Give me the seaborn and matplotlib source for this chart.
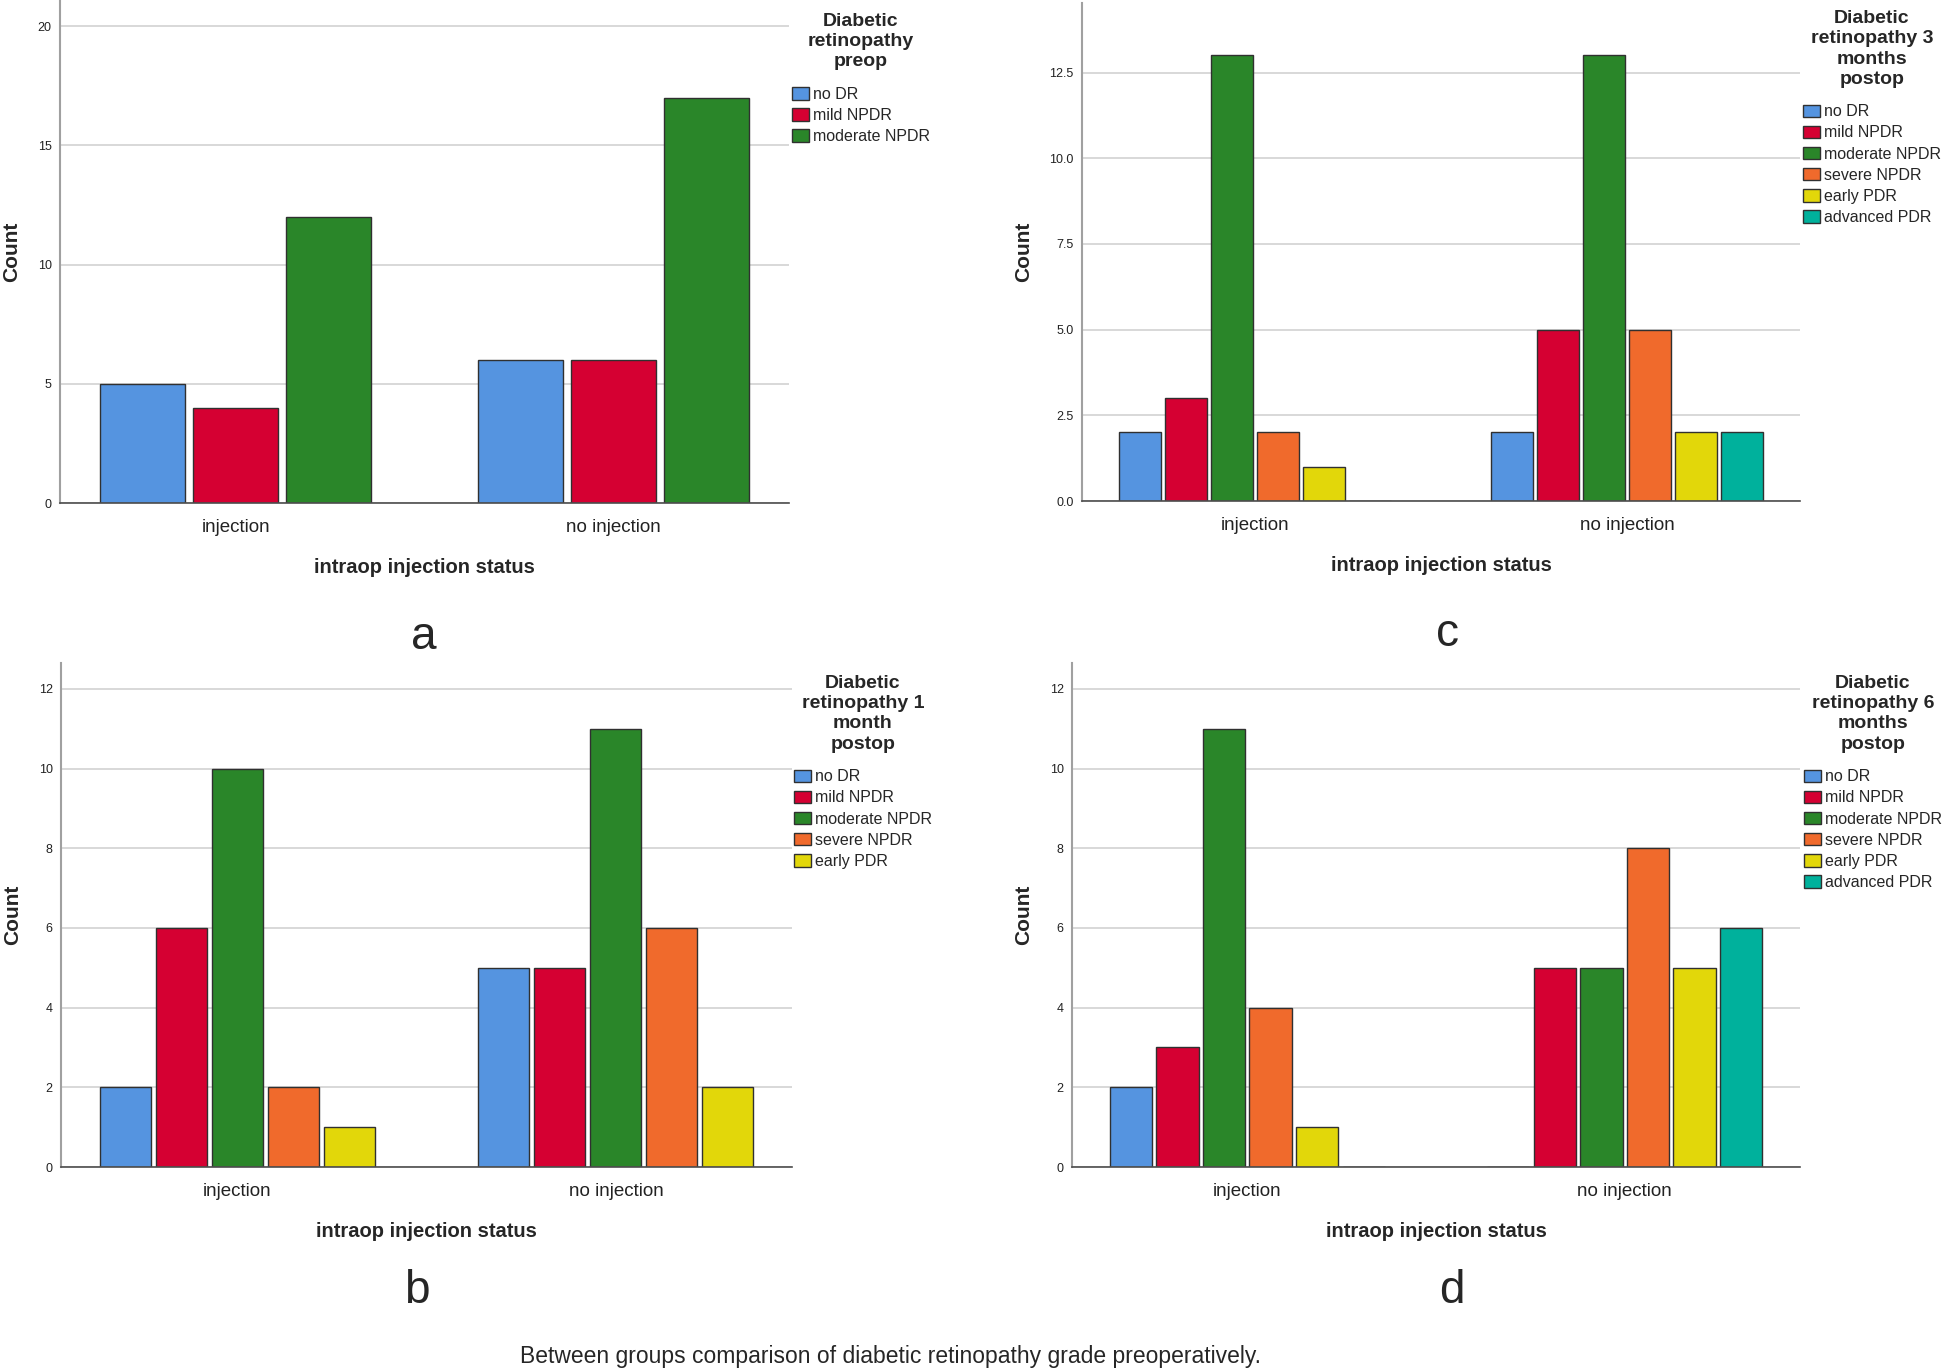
import pandas as pd
import matplotlib.pyplot as plt
import seaborn as sns
from matplotlib.ticker import MultipleLocator, FormatStrFormatter

sns.set_style('white')
plt.rcParams['font.family'] = ['Liberation Sans', 'DejaVu Sans']

# categories
status = ['injection', 'no injection']
grades = ['no DR', 'mild NPDR', 'moderate NPDR', 'severe NPDR', 'early PDR', 'advanced PDR']
grade_colors = ['#5594E0', '#D50032', '#2A8629', '#F06A2C', '#E2D70A', '#00B19C']

# counts per grade (in grade order) for injection / no injection
preop_inj = [5, 4, 12]
preop_noinj = [6, 6, 17]
month1_inj = [2, 6, 10, 2, 1]
month1_noinj = [5, 5, 11, 6, 2]
month3_inj = [2, 3, 13, 2, 1, 0]
month3_noinj = [2, 5, 13, 5, 2, 2]
month6_inj = [2, 3, 11, 4, 1, 0]
month6_noinj = [0, 5, 5, 8, 5, 6]

W, H = 1946, 1369


def long_df(inj, noinj):
    n = len(inj)
    return pd.DataFrame({
        'status': [status[0]] * n + [status[1]] * n,
        'grade': grades[:n] * 2,
        'count': inj + noinj,
    })


def panel(box, inj, noinj, title, ymax, step, fmt, leg_xy, letter, letter_xy):
    left, top, right, bottom = box
    ax = fig.add_axes([left / W, 1 - bottom / H, (right - left) / W, (bottom - top) / H])
    n = len(inj)
    df = long_df(inj, noinj)
    sns.barplot(data=df, x='status', y='count', hue='grade', hue_order=grades[:n],
                palette=grade_colors[:n], saturation=1, width=0.74, gap=0.09,
                edgecolor='#303030', linewidth=1, errorbar=None, ax=ax)
    ax.set_xlim(-0.465, 1.465)
    ax.set_ylim(0, ymax)
    ax.yaxis.set_major_locator(MultipleLocator(step))
    ax.yaxis.set_major_formatter(FormatStrFormatter(fmt))
    ax.yaxis.grid(True, color='#d6d6d6', linewidth=1.3)
    ax.set_axisbelow(True)
    for s in ['top', 'right']:
        ax.spines[s].set_visible(False)
    ax.spines['left'].set_color('#a0a0a0')
    ax.spines['left'].set_linewidth(1.5)
    ax.spines['bottom'].set_color('#4d4d4d')
    ax.spines['bottom'].set_linewidth(1.2)
    ax.tick_params(axis='y', length=0, pad=6, labelsize=9, labelcolor='#222222')
    ax.tick_params(axis='x', length=0, pad=11.5, labelsize=13.5, labelcolor='#222222')
    ax.set_xlabel('intraop injection status', fontsize=14.5, fontweight='bold', labelpad=16)
    ax.set_ylabel('Count', fontsize=15, fontweight='bold', labelpad=12)

    handles, labels = ax.get_legend_handles_labels()
    ax.get_legend().remove()
    leg = ax.legend(handles, labels, title=title, loc='upper left',
                    bbox_to_anchor=(leg_xy[0] / W, 1 - leg_xy[1] / H),
                    bbox_transform=fig.transFigure, frameon=False, fontsize=11.5,
                    title_fontproperties={'weight': 'bold', 'size': 14},
                    handlelength=1.05, handleheight=0.85, handletextpad=0.25,
                    labelspacing=0.38, borderpad=0, borderaxespad=0)
    leg.get_title().set_multialignment('center')
    leg.get_title().set_linespacing(1.25)
    leg._legend_box.sep = 12

    fig.text(letter_xy[0] / W, 1 - letter_xy[1] / H, letter, fontsize=33,
             ha='center', va='center')
    return ax


fig = plt.figure(figsize=(W / 100, H / 100), dpi=100)

panel((60, 1, 789, 503), preop_inj, preop_noinj,
      'Diabetic\nretinopathy\npreop', 21.05, 5, '%d', (792, 13), 'a', (424, 637))
panel((1082, 3, 1800, 501), month3_inj, month3_noinj,
      'Diabetic\nretinopathy 3\nmonths\npostop', 14.53, 2.5, '%.1f', (1803, 10), 'c', (1447, 634))
panel((61, 663, 792, 1167), month1_inj, month1_noinj,
      'Diabetic\nretinopathy 1\nmonth\npostop', 12.65, 2, '%d', (794, 675), 'b', (417, 1291))
panel((1072, 663, 1800, 1167), month6_inj, month6_noinj,
      'Diabetic\nretinopathy 6\nmonths\npostop', 12.65, 2, '%d', (1804, 675), 'd', (1452, 1291))

fig.text(890 / W, 1 - 1356 / H,
         'Between groups comparison of diabetic retinopathy grade preoperatively.',
         fontsize=16.5, ha='center', va='center',
         family=['Liberation Sans Narrow', 'Liberation Sans', 'DejaVu Sans'])

fig.savefig('out.png', dpi=100)
